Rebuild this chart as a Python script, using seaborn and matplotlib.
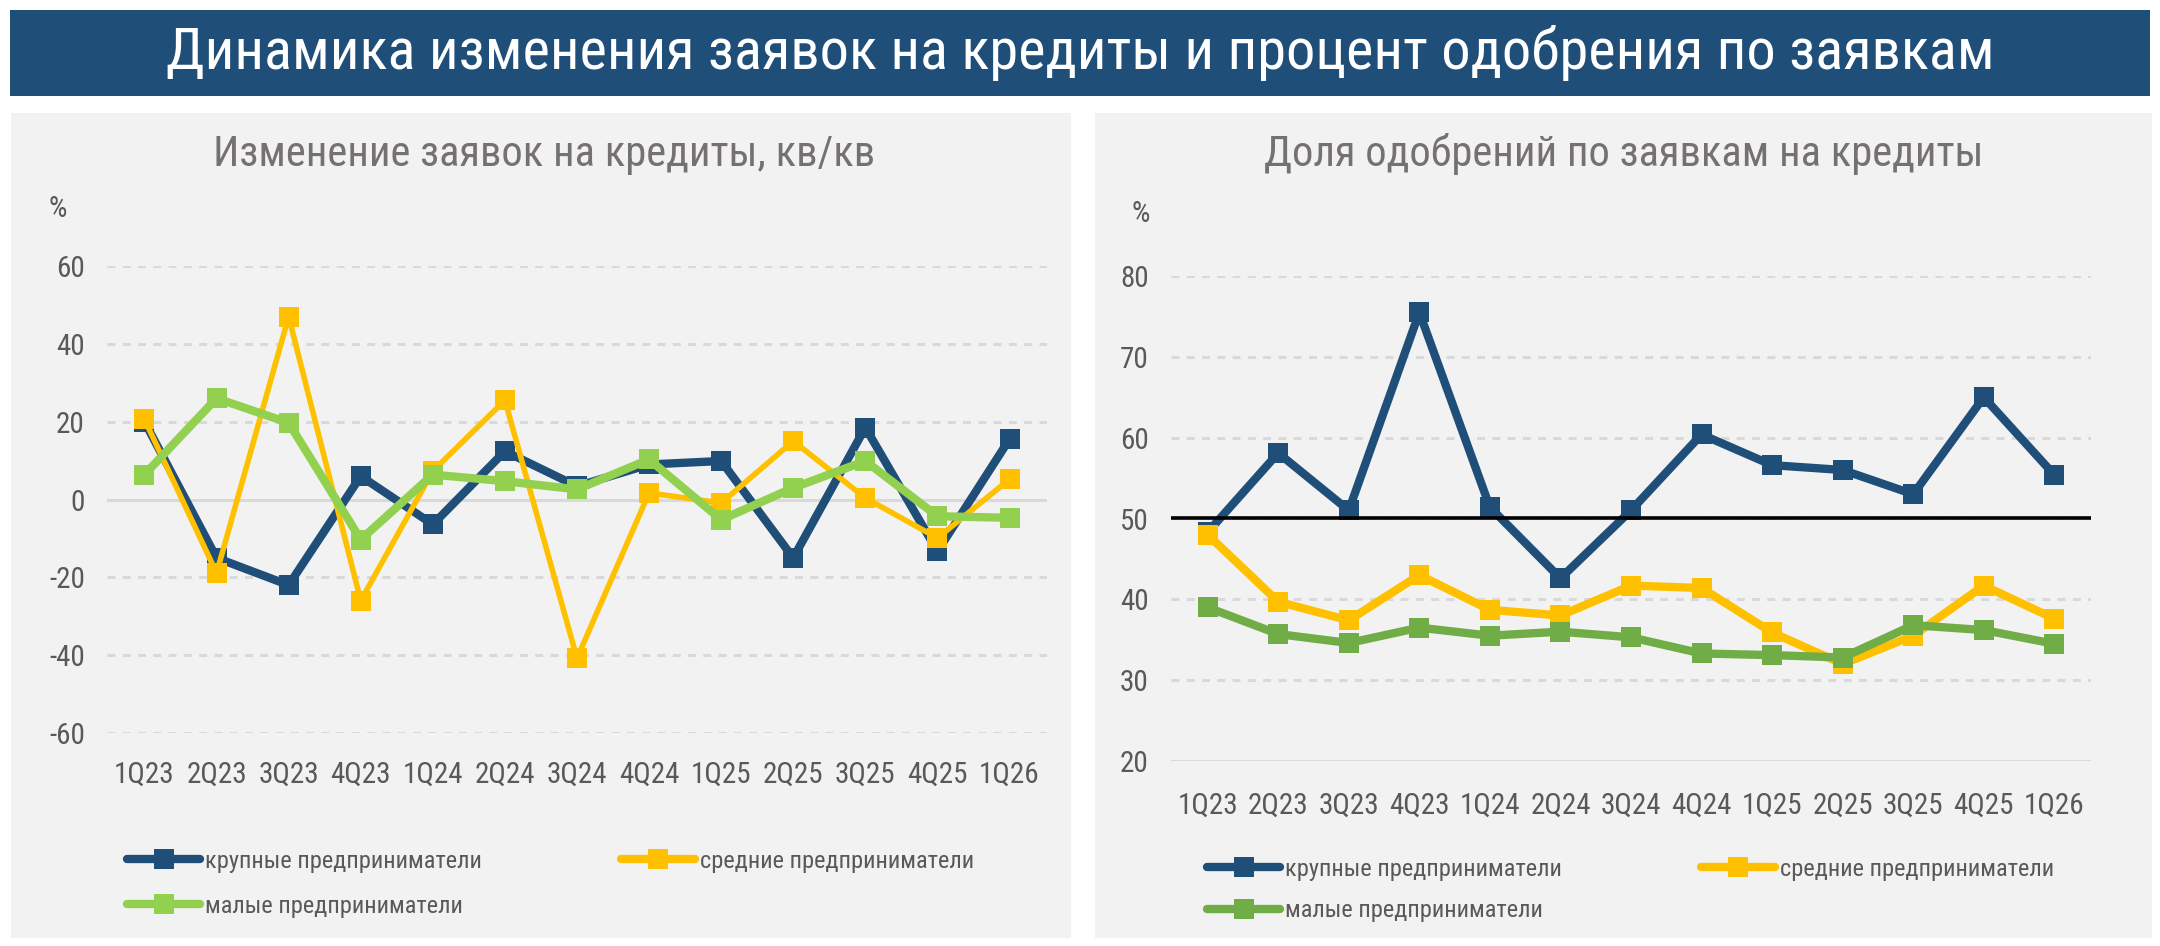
import matplotlib
matplotlib.use("Agg")
import matplotlib.pyplot as plt
from matplotlib import font_manager
from matplotlib.lines import Line2D
from matplotlib.patches import Rectangle
import seaborn as sns

# --- data -------------------------------------------------------------
quarters = ["1Q23", "2Q23", "3Q23", "4Q23", "1Q24", "2Q24", "3Q24",
            "4Q24", "1Q25", "2Q25", "3Q25", "4Q25", "1Q26"]

# change in loan applications, q/q, %
large_change = [20, -15, -22, 6, -6.4, 12.4, 3.4, 9, 9.9, -15, 18.5, -13.3, 15.5]
medium_change = [20.6, -18.9, 47, -26, 7.3, 25.5, -40.8, 1.7, -0.9, 15, 0.4, -9.9, 5.2]
small_change = [6.4, 26, 19.7, -10.3, 6.4, 4.7, 2.6, 10.3, -5.2, 3, 9.9, -4.3, -4.7]

# share of approved applications, %
large_approval = [48.3, 58.1, 51, 75.5, 51.4, 42.6, 51, 60.4, 56.6, 56, 53, 65, 55.4]
medium_approval = [48, 39.7, 37.4, 43, 38.7, 38, 41.7, 41.4, 35.9, 32, 35.5, 41.7, 37.6]
small_approval = [39, 35.7, 34.6, 36.5, 35.5, 36, 35.3, 33.3, 33.1, 32.8, 36.8, 36.2, 34.5]

series_names = ["крупные предприниматели", "средние предприниматели", "малые предприниматели"]

main_title = "Динамика изменения заявок на кредиты и процент одобрения по заявкам"
left_title = "Изменение заявок на кредиты, кв/кв"
right_title = "Доля одобрений по заявкам на кредиты"

left_ticks = [-60, -40, -20, 0, 20, 40, 60]
right_ticks = [20, 30, 40, 50, 60, 70, 80]

# --- style ------------------------------------------------------------
BLUE = "#1F4E79"
YELLOW = "#FFC000"
GREEN_LEFT = "#92D050"
GREEN_RIGHT = "#70AD47"
PANEL = "#F2F2F2"
TEXT = "#595959"
GRID = "#D9D9D9"

installed = {f.name for f in font_manager.fontManager.ttflist}
narrow = next((f for f in ["Roboto Condensed", "Liberation Sans Narrow",
                           "Open Sans Condensed", "Liberation Sans"] if f in installed), "DejaVu Sans")

sns.set_theme(style="white")
plt.rcParams["font.family"] = [narrow, "DejaVu Sans"]
plt.rcParams["axes.unicode_minus"] = False

W, H = 2160, 946
fig = plt.figure(figsize=(W / 100, H / 100), dpi=100)
fig.patch.set_facecolor("white")


def px_rect(x0, y0, x1, y1):
    # pixel box (top-left origin) -> figure fraction rect
    return [x0 / W, 1 - y1 / H, (x1 - x0) / W, (y1 - y0) / H]


def add_box(x0, y0, x1, y1, color):
    l, b, w, h = px_rect(x0, y0, x1, y1)
    fig.patches.append(Rectangle((l, b), w, h, transform=fig.transFigure,
                                 facecolor=color, edgecolor="none", zorder=-5))


add_box(10, 10, 2150, 96, BLUE)
add_box(11, 113, 1071, 938, PANEL)
add_box(1095, 113, 2152, 938, PANEL)

fig.text(1080 / W, 1 - 53 / H, main_title, color="white", fontsize=42,
         ha="center", va="center")
fig.text(544 / W, 1 - 154 / H, left_title, color="#767171", fontsize=30.6,
         ha="center", va="center")
fig.text(1624 / W, 1 - 154 / H, right_title, color="#767171", fontsize=30.6,
         ha="center", va="center")
fig.text(58 / W, 1 - 209 / H, "%", color=TEXT, fontsize=21, ha="center", va="center")
fig.text(1141 / W, 1 - 214 / H, "%", color=TEXT, fontsize=21, ha="center", va="center")


def draw_panel(ax, values, colors, widths, ticks, solid_at, ref_line=None):
    ax.patch.set_alpha(0)
    for y in ticks:
        if y == solid_at:
            ax.axhline(y, color=GRID, lw=2.2, zorder=1)
        else:
            ax.axhline(y, color=GRID, lw=2.2, ls=(0, (2.6, 2.4)), zorder=1)
    if ref_line is not None:
        ax.axhline(ref_line, color="black", lw=2.6, zorder=5)
    for vals, color, lw in zip(values, colors, widths):
        sns.lineplot(x=quarters, y=vals, ax=ax, color=color, lw=lw, marker="s",
                     markersize=15, markeredgewidth=0, sort=False, zorder=3,
                     clip_on=False)
    ax.set_xlim(-0.52, len(quarters) - 0.48)
    ax.set_ylim(ticks[0], ticks[-1])
    ax.set_yticks(ticks)
    ax.set_xlabel("")
    ax.set_ylabel("")
    ax.tick_params(axis="both", length=0, labelsize=21, labelcolor=TEXT)
    ax.tick_params(axis="y", pad=16)
    for s in ax.spines.values():
        s.set_visible(False)
    ax.grid(False)


ax_left = fig.add_axes(px_rect(107, 266, 1047, 733))
draw_panel(ax_left, [large_change, medium_change, small_change],
           [BLUE, YELLOW, GREEN_LEFT], [6, 4, 6], left_ticks, solid_at=0)
ax_left.tick_params(axis="x", pad=20)

ax_right = fig.add_axes(px_rect(1171, 276, 2091, 761))
draw_panel(ax_right, [large_approval, medium_approval, small_approval],
           [BLUE, YELLOW, GREEN_RIGHT], [6, 6, 6], right_ticks, solid_at=20, ref_line=50)
ax_right.tick_params(axis="x", pad=22)


def add_legend(colors, x, y, spacing):
    handles = [Line2D([0], [0], color=c, lw=6, marker="s", markersize=15,
                      markeredgewidth=0, label=n) for c, n in zip(colors, series_names)]
    # two columns: large + small in the first, medium in the second
    handles = [handles[0], handles[2], handles[1]]
    fig.legend(handles=handles, loc="upper left", bbox_to_anchor=(x / W, 1 - y / H),
               ncol=2, frameon=False, fontsize=17.6, labelcolor=TEXT,
               handlelength=3.0, handletextpad=0.2, columnspacing=5.7,
               labelspacing=spacing)


add_legend([BLUE, YELLOW, GREEN_LEFT], 105, 828, 0.9)
add_legend([BLUE, YELLOW, GREEN_RIGHT], 1185, 836, 0.75)

fig.savefig("out.png", dpi=100, facecolor=fig.get_facecolor())
